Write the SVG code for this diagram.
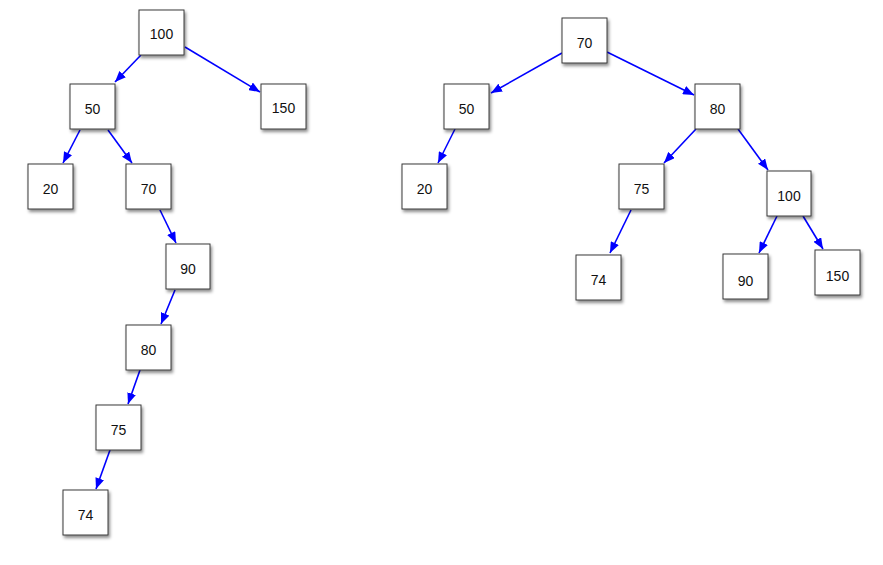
<svg xmlns="http://www.w3.org/2000/svg" width="883" height="565" viewBox="0 0 883 565">
<style>
.box{fill:#fff;stroke:#3a3a3a;stroke-width:1;filter:url(#sh)}
.lbl{font-family:"Liberation Sans",Arial,sans-serif;font-size:14px;fill:#111;text-anchor:middle}
.edge{stroke:#0000ff;stroke-width:1.6;fill:none;marker-end:url(#ah)}
</style>
<defs>
<filter id="sh" x="-20%" y="-20%" width="150%" height="150%">
<feDropShadow dx="1.5" dy="2.5" stdDeviation="1.6" flood-color="#000" flood-opacity="0.45"/>
</filter>
<marker id="ah" markerUnits="userSpaceOnUse" markerWidth="11" markerHeight="9" refX="11" refY="4.5" orient="auto">
<path d="M0,0 L11,4.5 L0,9 z" fill="#0000ff"/>
</marker>
</defs>
<rect width="883" height="565" fill="#fff"/>
<g id="connectors">
<line class="edge" x1="141" y1="55" x2="115" y2="82"/>
<line class="edge" x1="185" y1="47" x2="260" y2="92"/>
<line class="edge" x1="80" y1="130" x2="63" y2="163"/>
<line class="edge" x1="108" y1="130" x2="132" y2="163"/>
<line class="edge" x1="160" y1="210" x2="176" y2="243"/>
<line class="edge" x1="175" y1="290" x2="161" y2="324"/>
<line class="edge" x1="140" y1="370" x2="128" y2="404"/>
<line class="edge" x1="110" y1="450" x2="96" y2="489"/>
<line class="edge" x1="562" y1="53" x2="491" y2="93"/>
<line class="edge" x1="607" y1="52" x2="694" y2="95"/>
<line class="edge" x1="455" y1="129" x2="438" y2="163"/>
<line class="edge" x1="696" y1="129" x2="664" y2="163"/>
<line class="edge" x1="738" y1="129" x2="768" y2="170"/>
<line class="edge" x1="631" y1="210" x2="610" y2="253"/>
<line class="edge" x1="777" y1="216" x2="759" y2="253"/>
<line class="edge" x1="803" y1="216" x2="823" y2="249"/>
</g>
<g id="L100"><rect class="box" x="139" y="10" width="45" height="45"/><text class="lbl" x="161.5" y="39">100</text></g>
<g id="L150"><rect class="box" x="261" y="84" width="45" height="45"/><text class="lbl" x="283.5" y="113">150</text></g>
<g id="L50"><rect class="box" x="70" y="84" width="45" height="45"/><text class="lbl" x="92.5" y="114">50</text></g>
<g id="L20"><rect class="box" x="28" y="164" width="45" height="45"/><text class="lbl" x="50.5" y="194">20</text></g>
<g id="L70"><rect class="box" x="126" y="164" width="45" height="45"/><text class="lbl" x="148.5" y="194">70</text></g>
<g id="L90"><rect class="box" x="166" y="244" width="44" height="45"/><text class="lbl" x="188" y="274">90</text></g>
<g id="L80"><rect class="box" x="126" y="325" width="45" height="45"/><text class="lbl" x="148.5" y="355">80</text></g>
<g id="L75"><rect class="box" x="96" y="405" width="45" height="45"/><text class="lbl" x="118.5" y="435">75</text></g>
<g id="L74"><rect class="box" x="63" y="490" width="45" height="45"/><text class="lbl" x="85.5" y="520">74</text></g>
<g id="R70"><rect class="box" x="562" y="18" width="45" height="45"/><text class="lbl" x="584.5" y="48">70</text></g>
<g id="R50"><rect class="box" x="444" y="84" width="45" height="45"/><text class="lbl" x="466.5" y="114">50</text></g>
<g id="R80"><rect class="box" x="695" y="84" width="45" height="45"/><text class="lbl" x="717.5" y="114">80</text></g>
<g id="R20"><rect class="box" x="402" y="164" width="45" height="45"/><text class="lbl" x="424.5" y="194">20</text></g>
<g id="R75"><rect class="box" x="619" y="164" width="45" height="45"/><text class="lbl" x="641.5" y="194">75</text></g>
<g id="R100"><rect class="box" x="767" y="171" width="44" height="45"/><text class="lbl" x="789" y="201">100</text></g>
<g id="R74"><rect class="box" x="576" y="255" width="45" height="45"/><text class="lbl" x="598.5" y="285">74</text></g>
<g id="R90"><rect class="box" x="723" y="254" width="45" height="45"/><text class="lbl" x="745.5" y="286">90</text></g>
<g id="R150"><rect class="box" x="815" y="250" width="45" height="45"/><text class="lbl" x="837.5" y="281">150</text></g>
</svg>
